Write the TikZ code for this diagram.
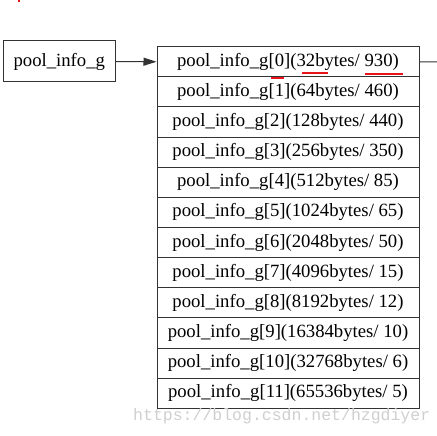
\documentclass[tikz,border=0pt]{standalone}
\usepackage{fontspec}
\setmainfont{Liberation Serif}
\newfontfamily\wmfont{Liberation Mono}
\usetikzlibrary{arrows.meta}
\definecolor{edgegray}{HTML}{333333}
\definecolor{wmgray}{HTML}{CFCFCF}
\definecolor{markred}{HTML}{E8141B}
\begin{document}
\begin{tikzpicture}[x=1pt,y=-1pt,
  every node/.style={font=\fontsize{18.7}{22}\selectfont},
  plainbox/.style={draw=edgegray,line width=1pt,inner sep=0pt,minimum width=112pt,minimum height=41pt},
  rowbox/.style={draw=edgegray,line width=1pt,inner sep=0pt,minimum width=262pt,minimum height=30.13pt},
  link/.style={draw=edgegray,line width=1pt},
  redline/.style={draw=markred,line width=2pt}
]
\useasboundingbox (0,0) rectangle (437,436);
\node[plainbox] (pg) at (59.3,61.5) {pool\_info\_g};
\foreach \i/\t in {0/{pool\_info\_g[0](32bytes/ 930)},
  1/{pool\_info\_g[1](64bytes/ 460)},
  2/{pool\_info\_g[2](128bytes/ 440)},
  3/{pool\_info\_g[3](256bytes/ 350)},
  4/{pool\_info\_g[4](512bytes/ 85)},
  5/{pool\_info\_g[5](1024bytes/ 65)},
  6/{pool\_info\_g[6](2048bytes/ 50)},
  7/{pool\_info\_g[7](4096bytes/ 15)},
  8/{pool\_info\_g[8](8192bytes/ 12)},
  9/{pool\_info\_g[9](16384bytes/ 10)},
  10/{pool\_info\_g[10](32768bytes/ 6)},
  11/{pool\_info\_g[11](65536bytes/ 5)}}
{
  \node[rowbox] (r\i) at (288,{61.77+30.13*\i}) {\t};
}
\draw[link,-{Triangle[length=13pt,width=8pt]}] (pg.east) -- (r0.west);
\coordinate (out) at (437,61.8);
\draw[link] (r0.east) -- (out);
% red annotation marks
\coordinate (m0a) at (271,78); \coordinate (m0b) at (284,78);
\coordinate (m1a) at (302,73.5); \coordinate (m1b) at (328,73.5);
\coordinate (m2a) at (365,74); \coordinate (m2b) at (403,74);
\draw[redline] (m0a) -- (m0b);
\draw[redline] (m1a) -- (m1b);
\draw[redline] (m2a) -- (m2b);
\fill[markred] (17.5,0) rectangle (19.5,2.5);
% watermark
\node[anchor=base west,inner sep=0pt,text=wmgray,font=\wmfont\fontsize{16.5}{18}\selectfont] (wm) at (133,420) {https://blog.csdn.net/hzgdiyer};
\end{tikzpicture}
\end{document}
